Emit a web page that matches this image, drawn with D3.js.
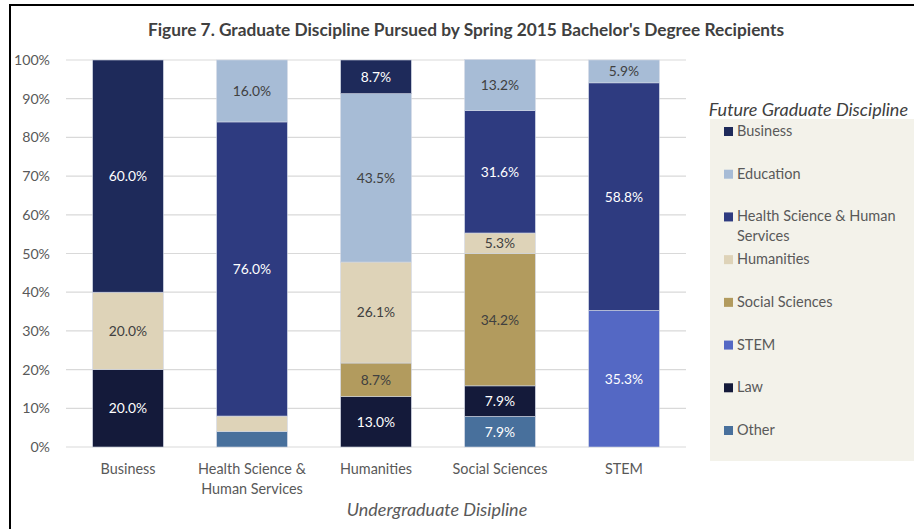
<!DOCTYPE html>
<head>
<meta charset="utf-8">
<script src="https://d3js.org/d3.v7.min.js"></script>
<style>
    body { margin: 0; background: #fff; }
    text { font-family: Lato, "Open Sans", sans-serif; fill: #595959; }
</style>
</head>
<body>
<svg></svg>
<script>
    var width = 914;
    var height = 529;

    // undergraduate discipline (x axis)
    var categories = ["Business", "Health Science & Human Services", "Humanities", "Social Sciences", "STEM"];
    var categoryLines = [["Business"], ["Health Science &", "Human Services"], ["Humanities"], ["Social Sciences"], ["STEM"]];

    // future graduate discipline, bottom of the stack first
    var seriesNames = ["Other", "Law", "STEM", "Social Sciences", "Humanities", "Health Science & Human Services", "Education", "Business"];
    var legendOrder = ["Business", "Education", "Health Science & Human Services", "Humanities", "Social Sciences", "STEM", "Law", "Other"];
    var colors = ["#48709c", "#141a3a", "#5468c4", "#b29b5e", "#ded3b8", "#2e3b80", "#a7bcd6", "#1e2a5a"];

    var other      = [0,    4,   0,    7.9,  0];
    var law        = [20,   0,   13.0, 7.9,  0];
    var stem       = [0,    0,   0,    0,    35.3];
    var socSci     = [0,    0,   8.7,  34.2, 0];
    var humanities = [20,   4,   26.1, 5.3,  0];
    var health     = [0,    76,  0,    31.6, 58.8];
    var education  = [0,    16,  43.5, 13.2, 5.9];
    var business   = [60,   0,   8.7,  0,    0];

    // which segments carry a printed label
    var showLabel = {
        "Other": [false, false, false, true, false],
        "Law": [true, false, true, true, false],
        "STEM": [false, false, false, false, true],
        "Social Sciences": [false, false, true, true, false],
        "Humanities": [true, false, true, true, false],
        "Health Science & Human Services": [false, true, false, true, true],
        "Education": [false, true, true, true, true],
        "Business": [true, false, true, false, false]
    };
    var darkText = ["Education", "Humanities", "Social Sciences"];

    var yTicks = [0, 10, 20, 30, 40, 50, 60, 70, 80, 90, 100];

    var valuesBySeries = [other, law, stem, socSci, humanities, health, education, business];
    var table = categories.map(function(c, i) {
        var row = { category: c };
        seriesNames.forEach(function(s, j) { row[s] = valuesBySeries[j][i]; });
        return row;
    });

    var svg = d3.select("svg").attr("width", width).attr("height", height);

    // chart frame
    svg.append("rect")
        .attr("x", 10).attr("y", 5)
        .attr("width", 1000).attr("height", 1000)
        .attr("fill", "#fff").attr("stroke", "#000").attr("stroke-width", 2);

    svg.append("text")
        .attr("x", 466).attr("y", 36)
        .attr("text-anchor", "middle")
        .style("font-size", "17.3px").style("font-weight", "bold")
        .style("fill", "#404040")
        .text("Figure 7. Graduate Discipline Pursued by Spring 2015 Bachelor's Degree Recipients");

    var x = d3.scaleBand().domain(categories).range([66, 686]).paddingInner(0.43).paddingOuter(0.215);
    var y = d3.scaleLinear().domain([0, 100]).range([447, 60]);

    // gridlines
    svg.append("g").selectAll("line").data(yTicks).enter().append("line")
        .attr("x1", 66).attr("x2", 686)
        .attr("y1", function(d) { return y(d); }).attr("y2", function(d) { return y(d); })
        .attr("stroke", "#d9d9d9").attr("stroke-width", 1.2);

    var yAxis = svg.append("g").attr("transform", "translate(56,0)")
        .call(d3.axisLeft(y).tickValues(yTicks).tickSize(0).tickPadding(6).tickFormat(function(d) { return d + "%"; }));
    yAxis.select(".domain").remove();
    yAxis.selectAll("text").style("font-size", "14.2px").style("fill", "#595959").style("font-family", "Lato, sans-serif");

    var stack = d3.stack().keys(seriesNames);
    var layers = stack(table);

    var g = svg.append("g");
    layers.forEach(function(layer, j) {
        var name = seriesNames[j];
        layer.forEach(function(d, i) {
            if (d[1] - d[0] <= 0) return;
            g.append("rect")
                .attr("x", x(categories[i]))
                .attr("width", x.bandwidth())
                .attr("y", y(d[1]))
                .attr("height", y(d[0]) - y(d[1]))
                .attr("fill", colors[j])
                .attr("stroke", "#cfd6e4").attr("stroke-width", 0.6);
            if (showLabel[name][i]) {
                g.append("text")
                    .attr("x", x(categories[i]) + x.bandwidth() / 2)
                    .attr("y", (y(d[0]) + y(d[1])) / 2)
                    .attr("dy", "0.36em")
                    .attr("text-anchor", "middle")
                    .style("font-size", "13.8px")
                    .style("fill", darkText.indexOf(name) >= 0 ? "#404040" : "#ffffff")
                    .text((d[1] - d[0]).toFixed(1) + "%");
            }
        });
    });

    // category labels
    categories.forEach(function(c, i) {
        var t = svg.append("text")
            .attr("x", x(c) + x.bandwidth() / 2)
            .attr("y", 474)
            .attr("text-anchor", "middle")
            .style("font-size", "14.4px");
        categoryLines[i].forEach(function(line, k) {
            t.append("tspan").attr("x", x(c) + x.bandwidth() / 2).attr("dy", k === 0 ? 0 : 20).text(line);
        });
    });

    svg.append("text")
        .attr("x", 437).attr("y", 516)
        .attr("text-anchor", "middle")
        .style("font-size", "18px").style("font-style", "italic")
        .text("Undergraduate Disipline");

    // legend
    svg.append("rect")
        .attr("x", 710).attr("y", 119)
        .attr("width", 204).attr("height", 342)
        .attr("fill", "#f3f2ea");

    svg.append("text")
        .attr("x", 908).attr("y", 116)
        .attr("text-anchor", "end")
        .style("font-size", "18px").style("font-style", "italic")
        .style("fill", "#404040")
        .text("Future Graduate Discipline");

    var legendY = d3.scalePoint().domain(legendOrder).range([131, 430]);
    var legendLines = {
        "Health Science & Human Services": ["Health Science & Human", "Services"]
    };
    legendOrder.forEach(function(name) {
        var ly = legendY(name);
        svg.append("rect")
            .attr("x", 724).attr("y", ly - 4)
            .attr("width", 9).attr("height", 9)
            .attr("fill", colors[seriesNames.indexOf(name)]);
        var t = svg.append("text")
            .attr("x", 737).attr("y", ly + 5)
            .style("font-size", "14.5px");
        (legendLines[name] || [name]).forEach(function(line, k) {
            t.append("tspan").attr("x", 737).attr("dy", k === 0 ? 0 : 20).text(line);
        });
    });
</script>
</body>
